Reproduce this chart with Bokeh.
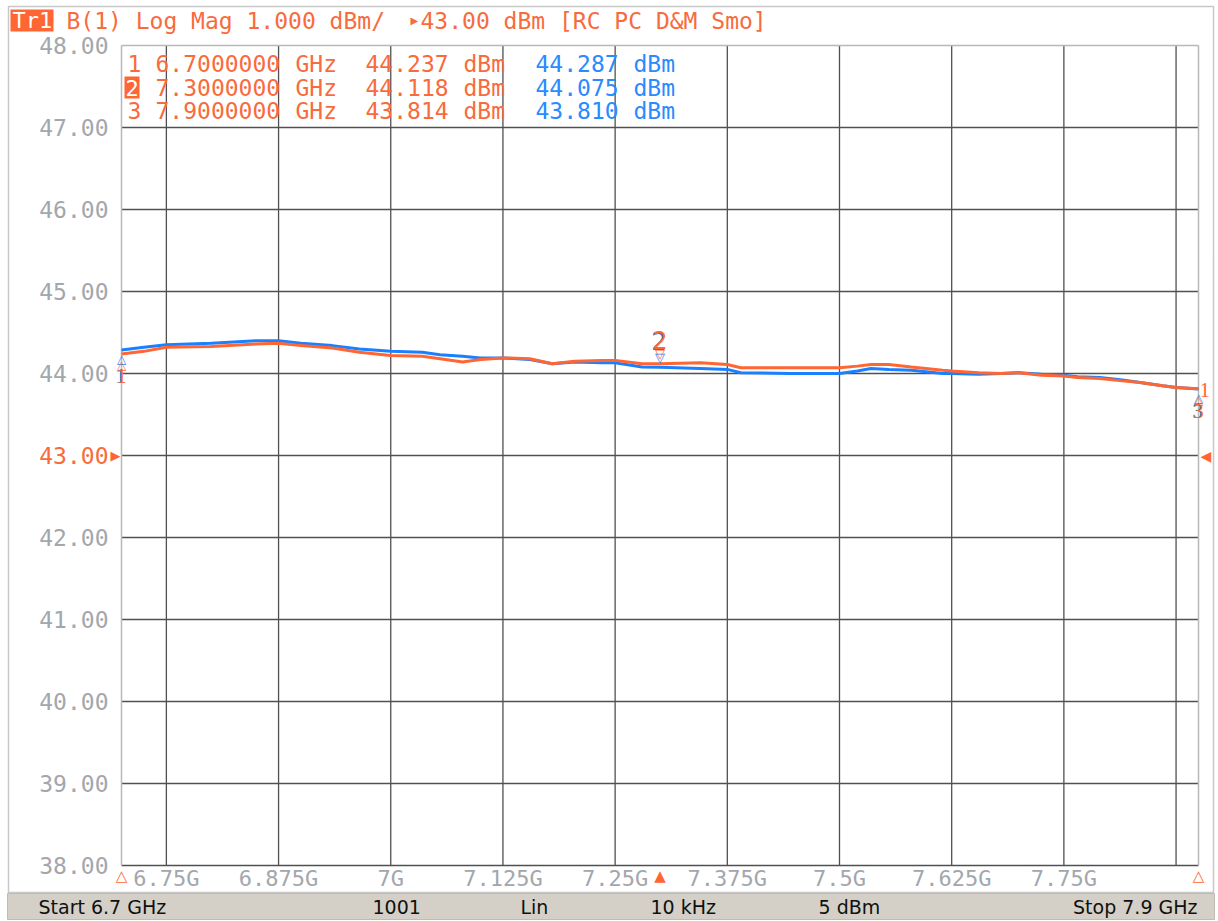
from bokeh.plotting import figure
from bokeh.models import FixedTicker, Label, Range1d
from bokeh.embed import file_html
from bokeh.resources import INLINE

# ---------------- data ----------------
freq_ghz = [6.700, 6.725, 6.750, 6.800, 6.850, 6.875, 6.900, 6.935, 6.965, 7.000,
            7.035, 7.055, 7.080, 7.100, 7.125, 7.155, 7.180, 7.205, 7.235, 7.250,
            7.280, 7.300, 7.345, 7.375, 7.390, 7.445, 7.500, 7.520, 7.535, 7.555,
            7.580, 7.615, 7.625, 7.655, 7.680, 7.700, 7.725, 7.750, 7.765, 7.790,
            7.815, 7.835, 7.860, 7.875, 7.900]
trace_orange = [44.237, 44.27, 44.32, 44.33, 44.36, 44.37, 44.34, 44.31, 44.26, 44.22,
                44.21, 44.18, 44.14, 44.17, 44.19, 44.18, 44.12, 44.15, 44.16, 44.16,
                44.12, 44.118, 44.13, 44.11, 44.07, 44.07, 44.07, 44.09, 44.11, 44.11,
                44.08, 44.04, 44.03, 44.01, 44.00, 44.01, 43.98, 43.97, 43.95, 43.94,
                43.91, 43.89, 43.85, 43.83, 43.814]
trace_blue = [44.287, 44.32, 44.35, 44.37, 44.40, 44.40, 44.37, 44.34, 44.30, 44.27,
              44.26, 44.23, 44.21, 44.19, 44.19, 44.17, 44.12, 44.14, 44.13, 44.13,
              44.08, 44.075, 44.06, 44.05, 44.01, 44.00, 44.00, 44.03, 44.06, 44.05,
              44.04, 44.00, 44.00, 43.99, 44.00, 44.01, 43.99, 43.98, 43.96, 43.95,
              43.92, 43.89, 43.85, 43.83, 43.810]

y_ticks = [38, 39, 40, 41, 42, 43, 44, 45, 46, 47, 48]
x_ticks = [6.75, 6.875, 7.0, 7.125, 7.25, 7.375, 7.5, 7.625, 7.75]
x_tick_labels = ["6.75G", "6.875G", "7G", "7.125G", "7.25G", "7.375G", "7.5G", "7.625G", "7.75G"]
x_grid = [6.75, 6.875, 7.0, 7.125, 7.25, 7.375, 7.5, 7.625, 7.75, 7.875]
ref_level = 43

marker_ids = ["1", "2", "3"]
marker_freq = [6.7, 7.3, 7.9]
marker_orange = [44.237, 44.118, 43.814]
marker_blue = [44.287, 44.075, 43.810]

header_left = "B(1) Log Mag 1.000 dBm/"
header_right = "43.00 dBm [RC PC D&M Smo]"
status_texts = ["Start 6.7 GHz", "1001", "Lin", "10 kHz", "5 dBm", "Stop 7.9 GHz"]

# ---------------- style / geometry ----------------
ORANGE = "#FF6633"
ORANGE_TXT = "#F86B3C"
BLUE = "#1A80FF"
BLUE_TXT = "#2A8AFF"
GRAY_LBL = "#A2A7AD"
GRID = "#505050"
EDGE = "#B8B8B8"
MONO = "DejaVu Sans Mono"
TXT = 23

W, H = 1218, 921
X0, X1 = 6.7, 7.9
Y0, Y1 = 38, 48
FRAME_L, FRAME_T, FRAME_W, FRAME_H = 121, 45, 1077, 820   # pixels of the trace area


def dx(px):
    return X0 + (px - FRAME_L) * (X1 - X0) / FRAME_W


def dy(py):
    return Y1 - (py - FRAME_T) * (Y1 - Y0) / FRAME_H


p = figure(width=W, height=H,
           x_range=Range1d(dx(0), dx(W)), y_range=Range1d(dy(H), dy(0)),
           output_backend="svg", toolbar_location=None,
           min_border_left=0, min_border_right=0, min_border_top=0, min_border_bottom=0)
p.background_fill_color = "white"
p.border_fill_color = "white"
p.outline_line_color = None
p.grid.visible = False

# axes fixed on the trace-area edges
p.xaxis.fixed_location = Y0
p.yaxis.fixed_location = X0
p.xaxis.ticker = FixedTicker(ticks=x_ticks)
p.xaxis.major_label_overrides = {t: s for t, s in zip(x_ticks, x_tick_labels)}
p.xaxis.major_label_text_font = MONO
p.xaxis.major_label_text_font_size = "22px"
p.xaxis.major_label_text_color = GRAY_LBL
p.xaxis.major_label_standoff = 0
p.yaxis.ticker = FixedTicker(ticks=y_ticks)
p.yaxis.major_label_overrides = {t: ("" if t == ref_level else f"{t:.2f}") for t in y_ticks}
p.yaxis.major_label_text_font = MONO
p.yaxis.major_label_text_font_size = f"{TXT}px"
p.yaxis.major_label_text_color = GRAY_LBL
p.yaxis.major_label_standoff = 13
for ax in (p.xaxis, p.yaxis):
    ax.axis_line_color = None
    ax.major_tick_line_color = None
    ax.minor_tick_line_color = None
    ax.major_tick_out = 0
    ax.major_tick_in = 0
    ax.minor_tick_out = 0

# outer frame and status bar
p.quad(left=[dx(8)], right=[dx(1213)], bottom=[dy(892)], top=[dy(6)],
       fill_color=None, line_color="#C8C8C8", line_width=1.5)
p.quad(left=[dx(7)], right=[dx(1214)], bottom=[dy(919)], top=[dy(893)],
       fill_color="#D4D0C8", line_color="#C0BCB4", line_width=1)

# grid lines (inside the trace area only)
p.segment(x0=x_grid, y0=[Y0] * len(x_grid), x1=x_grid, y1=[Y1] * len(x_grid),
          line_color=GRID, line_width=1.3)
inner_y = y_ticks[:-1]
p.segment(x0=[X0] * len(inner_y), y0=inner_y, x1=[X1] * len(inner_y), y1=inner_y,
          line_color=GRID, line_width=1.3)
p.segment(x0=[X0, X1, X0], y0=[Y0, Y0, Y1], x1=[X0, X1, X1], y1=[Y1, Y1, Y1],
          line_color=EDGE, line_width=1.5)

# traces
p.line(freq_ghz, trace_blue, line_color=BLUE, line_width=3)
p.line(freq_ghz, trace_orange, line_color=ORANGE, line_width=3)


def lab(x, y, text, color, size, font=MONO, align="left", baseline="middle", xo=0, yo=0):
    p.add_layout(Label(x=x, y=y, text=text, text_color=color,
                       text_font_size=f"{size}px", text_font=font,
                       text_align=align, text_baseline=baseline,
                       x_offset=xo, y_offset=yo))


# header
p.quad(left=[dx(10)], right=[dx(53)], bottom=[dy(31)], top=[dy(9)],
       fill_color=ORANGE, line_color=None)
lab(dx(12), dy(20), "Tr1", "white", 22)
lab(dx(66), dy(20), header_left, ORANGE_TXT, TXT)
lab(dx(410), dy(20), "\u25B6", ORANGE_TXT, 10, font="DejaVu Sans")
lab(dx(420), dy(20), header_right, ORANGE_TXT, TXT)

# reference level label and arrows
lab(dx(108), ref_level, f"{ref_level:.2f}", ORANGE_TXT, TXT, align="right")
lab(dx(110), ref_level, "\u25B6", ORANGE, 13, font="DejaVu Sans")
lab(dx(1200), ref_level, "\u25C0", ORANGE, 14, font="DejaVu Sans")

# marker table
row_y = [63, 87, 110]
for i, mid in enumerate(marker_ids):
    yy = dy(row_y[i])
    if i == 1:
        p.quad(left=[dx(124)], right=[dx(139)], bottom=[dy(98)], top=[dy(76)],
               fill_color=ORANGE, line_color=None)
        lab(dx(125), yy, mid, "white", 22)
    else:
        lab(dx(127), yy, mid, ORANGE_TXT, TXT)
    lab(dx(155), yy, f"{marker_freq[i]:.7f}", ORANGE_TXT, TXT)
    lab(dx(295), yy, "GHz", ORANGE_TXT, TXT)
    lab(dx(365), yy, f"{marker_orange[i]:.3f}", ORANGE_TXT, TXT)
    lab(dx(463), yy, "dBm", ORANGE_TXT, TXT)
    lab(dx(535), yy, f"{marker_blue[i]:.3f}", BLUE_TXT, TXT)
    lab(dx(633), yy, "dBm", BLUE_TXT, TXT)

# markers on the traces
for i, mid in enumerate(marker_ids):
    f = marker_freq[i]
    if i == 1:
        lab(f, marker_blue[i], "\u25BD", BLUE, 13, font="DejaVu Sans", align="center", baseline="bottom", yo=2)
        lab(f, marker_orange[i], "\u25BD", ORANGE, 13, font="DejaVu Sans", align="center", baseline="bottom", yo=3)
        lab(f, marker_orange[i], mid, BLUE, 24, font="DejaVu Sans", align="center", baseline="bottom", xo=-1, yo=14)
        lab(f, marker_orange[i], mid, ORANGE, 24, font="DejaVu Sans", align="center", baseline="bottom", yo=15)
    else:
        lab(f, marker_blue[i], "\u25B3", BLUE, 12, font="DejaVu Sans", align="center", baseline="top", yo=-2)
        lab(f, marker_orange[i], "\u25B3", ORANGE, 12, font="DejaVu Sans", align="center", baseline="top", yo=-4)
        lab(f, marker_orange[i], mid, BLUE, 21, font="Liberation Serif", align="center", baseline="top", xo=-1, yo=-15)
        lab(f, marker_orange[i], mid, ORANGE, 21, font="Liberation Serif", align="center", baseline="top", yo=-15)
lab(X1, marker_orange[2], "1", ORANGE, 21, font="Liberation Serif", align="left", baseline="bottom", xo=1, yo=-8)

# stimulus markers along the bottom edge
for i, f in enumerate(marker_freq):
    sym = "\u25B2" if i == 1 else "\u25B3"
    lab(f, Y0, sym, ORANGE, 15, font="DejaVu Sans", align="center", baseline="top", yo=-1)

# status bar texts
status_x = [38, 372, 520, 650, 818, 1197]
for i, t in enumerate(status_texts):
    align = "right" if i == len(status_texts) - 1 else "left"
    lab(dx(status_x[i]), dy(906), t, "#101010", 19, font="DejaVu Sans", align=align)

open("out.html", "w").write(file_html(p, INLINE))
